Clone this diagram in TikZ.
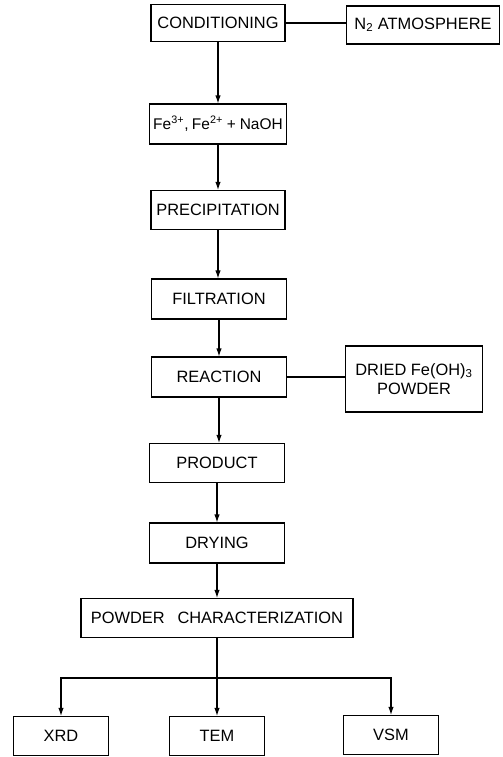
\documentclass[tikz,border=0pt]{standalone}
\usepackage{fontspec}
\setmainfont{Liberation Sans}
\usetikzlibrary{arrows.meta}

\tikzset{every picture/.style={line width=0.8pt}}
\tikzset{
  stepbox/.style={draw, rectangle, inner sep=1pt, minimum width=101.25pt, minimum height=30pt,
    font=\fontsize{12.3}{14.5}\selectfont, align=center},
  flowarrow/.style={-{Latex[length=6pt,width=4pt]}},
}

\begin{document}
\begin{tikzpicture}[x=0.75pt,y=0.75pt,yscale=-1,xscale=1]
\useasboundingbox (0,0) rectangle (503,757);
%Shapes: main column
\node[stepbox, minimum width=100.5pt, minimum height=27.75pt] (cond) at (218,23) {CONDITIONING};
\node[stepbox, minimum width=102.75pt, inner sep=0pt, font=\fontsize{11.6}{14}\selectfont] (fe) at (218,124)
  {Fe\textsuperscript{3+},\hspace{0.22em}Fe\textsuperscript{2+}\hspace{0.25em}+\hspace{0.25em}NaOH};
\node[stepbox, minimum width=100.5pt, minimum height=29.25pt] (prec) at (218,210) {PRECIPITATION};
\node[stepbox] (filt) at (219,299) {FILTRATION};
\node[stepbox] (reac) at (219,377) {REACTION};
\node[stepbox, minimum height=29.25pt] (prod) at (217,463) {PRODUCT};
\node[stepbox] (dry) at (217,543) {DRYING};
\node[stepbox, minimum width=204pt, minimum height=29.25pt] (pc) at (217,618) {POWDER\,\,\, CHARACTERIZATION};
%Shapes: side boxes
\node[stepbox, minimum width=114.75pt, minimum height=28.5pt] (atm) at (423,25) {N\textsubscript{2} ATMOSPHERE};
\node[stepbox, minimum width=102.75pt, minimum height=49.5pt] (dried) at (414,379) {DRIED Fe(OH)\textsubscript{3}\\POWDER};
%Shapes: analysis
\node[stepbox, minimum width=71.25pt, minimum height=29.25pt] (xrd) at (61,736) {XRD};
\node[stepbox, minimum width=71.25pt, minimum height=29.25pt] (tem) at (217,736) {TEM};
\node[stepbox, minimum width=71.25pt, minimum height=29.25pt] (vsm) at (391,735) {VSM};
\coordinate (split) at (217,678);

%Straight Lines
\draw[flowarrow] (cond.south) -- (cond.south |- fe.north);
\draw[flowarrow] (fe.south) -- (fe.south |- prec.north);
\draw[flowarrow] (prec.south) -- (prec.south |- filt.north);
\draw[flowarrow] (filt.south) -- (filt.south |- reac.north);
\draw[flowarrow] (reac.south) -- (reac.south |- prod.north);
\draw[flowarrow] (prod.south) -- (prod.south |- dry.north);
\draw[flowarrow] (dry.south) -- (dry.south |- pc.north);
\draw[flowarrow] (pc.south) -- (pc.south |- tem.north);
\draw[flowarrow] (split) -| (xrd.north);
\draw[flowarrow] (split) -| (vsm.north);
\draw (cond.east) -- (cond.east -| atm.west);
\draw (reac.east) -- (reac.east -| dried.west);

\end{tikzpicture}
\end{document}
